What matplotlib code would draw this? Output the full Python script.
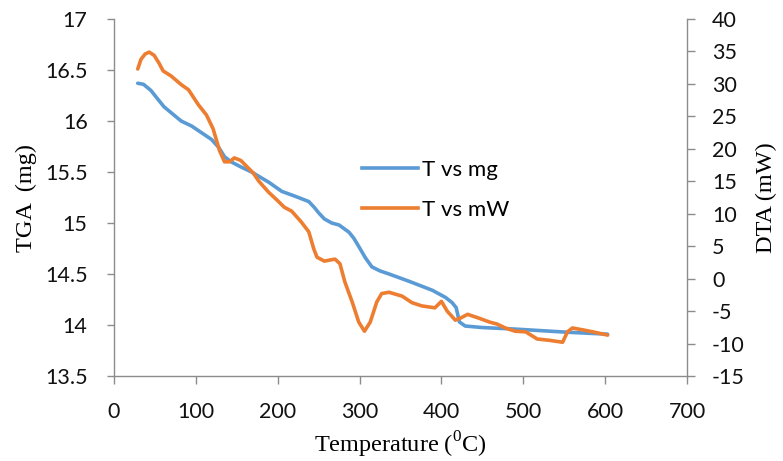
import matplotlib
matplotlib.use('Agg')
import matplotlib.pyplot as plt
from matplotlib.lines import Line2D

# TGA curve (temperature in C, mass in mg)
temp_tga = [29, 36, 45, 53, 61, 70, 82, 95, 106, 119, 128, 135, 143, 155, 168, 189,
            205, 222, 238, 245, 250, 257, 266, 275, 287, 293, 299, 307, 315, 325, 336,
            360, 389, 405, 413, 418, 420, 422, 429, 450, 490, 552, 603]
tga_mg = [16.37, 16.36, 16.30, 16.22, 16.14, 16.08, 16.00, 15.95, 15.89, 15.82, 15.74,
          15.65, 15.60, 15.55, 15.50, 15.40, 15.31, 15.26, 15.21, 15.15, 15.10, 15.04,
          15.00, 14.98, 14.91, 14.85, 14.77, 14.66, 14.57, 14.53, 14.50, 14.43, 14.34,
          14.27, 14.22, 14.17, 14.10, 14.03, 13.99, 13.975, 13.96, 13.93, 13.91]

# DTA curve (temperature in C, signal in mW)
temp_dta = [29, 33, 38, 43, 49, 55, 60, 70, 82, 91, 103, 113, 121, 129, 135, 141, 147,
            155, 162, 170, 177, 189, 200, 208, 217, 229, 238, 244, 248, 257, 265, 270,
            276, 282, 291, 299, 306, 313, 321, 327, 336, 352, 364, 376, 392, 400, 407,
            417, 423, 432, 446, 459, 468, 478, 490, 503, 517, 532, 548, 554, 560, 573,
            585, 603]
dta_mw = [32.3, 33.8, 34.6, 34.9, 34.4, 33.2, 32.0, 31.2, 29.9, 29.1, 26.8, 25.2, 23.1,
          19.7, 18.0, 18.0, 18.6, 18.2, 17.3, 16.3, 15.0, 13.3, 12.0, 11.0, 10.4, 8.7,
          7.2, 4.6, 3.3, 2.7, 2.9, 3.0, 2.3, -0.5, -3.6, -6.7, -8.1, -6.7, -3.6, -2.3,
          -2.1, -2.7, -3.7, -4.2, -4.5, -3.5, -5.0, -6.4, -6.1, -5.5, -6.1, -6.7, -7.0,
          -7.6, -8.1, -8.2, -9.3, -9.5, -9.8, -8.2, -7.6, -7.9, -8.2, -8.7]

x_ticks = [0, 100, 200, 300, 400, 500, 600, 700]
tga_ticks = [13.5, 14, 14.5, 15, 15.5, 16, 16.5, 17]
dta_ticks = list(range(-15, 45, 5))

blue = '#5B9BD5'
orange = '#ED7D31'
spine_col = '#8c8c8c'
tick_font = 'Lato'
serif = 'Liberation Serif'

plt.rcParams['mathtext.fontset'] = 'custom'
plt.rcParams['mathtext.rm'] = serif

fig = plt.figure(figsize=(7.83, 4.61), dpi=100)
ax = fig.add_axes([114 / 783, 1 - 376 / 461, 573 / 783, 357 / 461])
ax2 = ax.twinx()

line_kw = dict(lw=2.6, solid_capstyle='round', solid_joinstyle='round')
ax.plot(temp_tga, tga_mg, color=blue, **line_kw)
ax2.plot(temp_dta, dta_mw, color=orange, **line_kw)

ax.set_xlim(0, 700)
ax.set_ylim(13.5, 17)
ax2.set_ylim(-15, 40)
ax.set_xticks(x_ticks)
ax.set_yticks(tga_ticks)
ax2.set_yticks(dta_ticks)
ax.set_yticklabels([f'{v:g}' for v in tga_ticks])
ax2.set_yticklabels([str(v) for v in dta_ticks])

for a in (ax, ax2):
    a.spines['top'].set_visible(False)
    for s in a.spines.values():
        s.set_color(spine_col)
        s.set_linewidth(1.0)
ax.spines['right'].set_visible(False)
ax2.spines['left'].set_visible(False)
ax2.spines['bottom'].set_visible(False)

ax.tick_params(axis='y', direction='out', length=5, width=1, color=spine_col, pad=14,
               labelsize=15.5)
ax.tick_params(axis='x', direction='out', length=6, width=1, color=spine_col, pad=13,
               labelsize=15.5)
ax2.tick_params(axis='y', direction='out', length=6, width=1, color=spine_col, pad=12,
                labelsize=15.5)
for lab in ax.get_xticklabels() + ax.get_yticklabels() + ax2.get_yticklabels():
    lab.set_fontfamily(tick_font)
    lab.set_color('#111111')

ax.set_xlabel(r'Temperature ($^{0}$C)', fontfamily=serif, fontsize=17.5, labelpad=5)
ax.set_ylabel('TGA  (mg)', fontfamily=serif, fontsize=17.5, labelpad=6)
ax2.set_ylabel('DTA (mW)', fontfamily=serif, fontsize=17.5, labelpad=8)

handles = [Line2D([], [], color=blue, lw=2.6), Line2D([], [], color=orange, lw=2.6)]
fig.legend(handles, ['T vs mg', 'T vs mW'], loc='upper left',
           bbox_to_anchor=(362 / 783, 1 - 160 / 461), frameon=False,
           prop={'family': tick_font, 'size': 16}, handlelength=2.5,
           handletextpad=0.2, labelspacing=0.9, borderpad=0, borderaxespad=0)

plt.savefig('out.png', dpi=100)
